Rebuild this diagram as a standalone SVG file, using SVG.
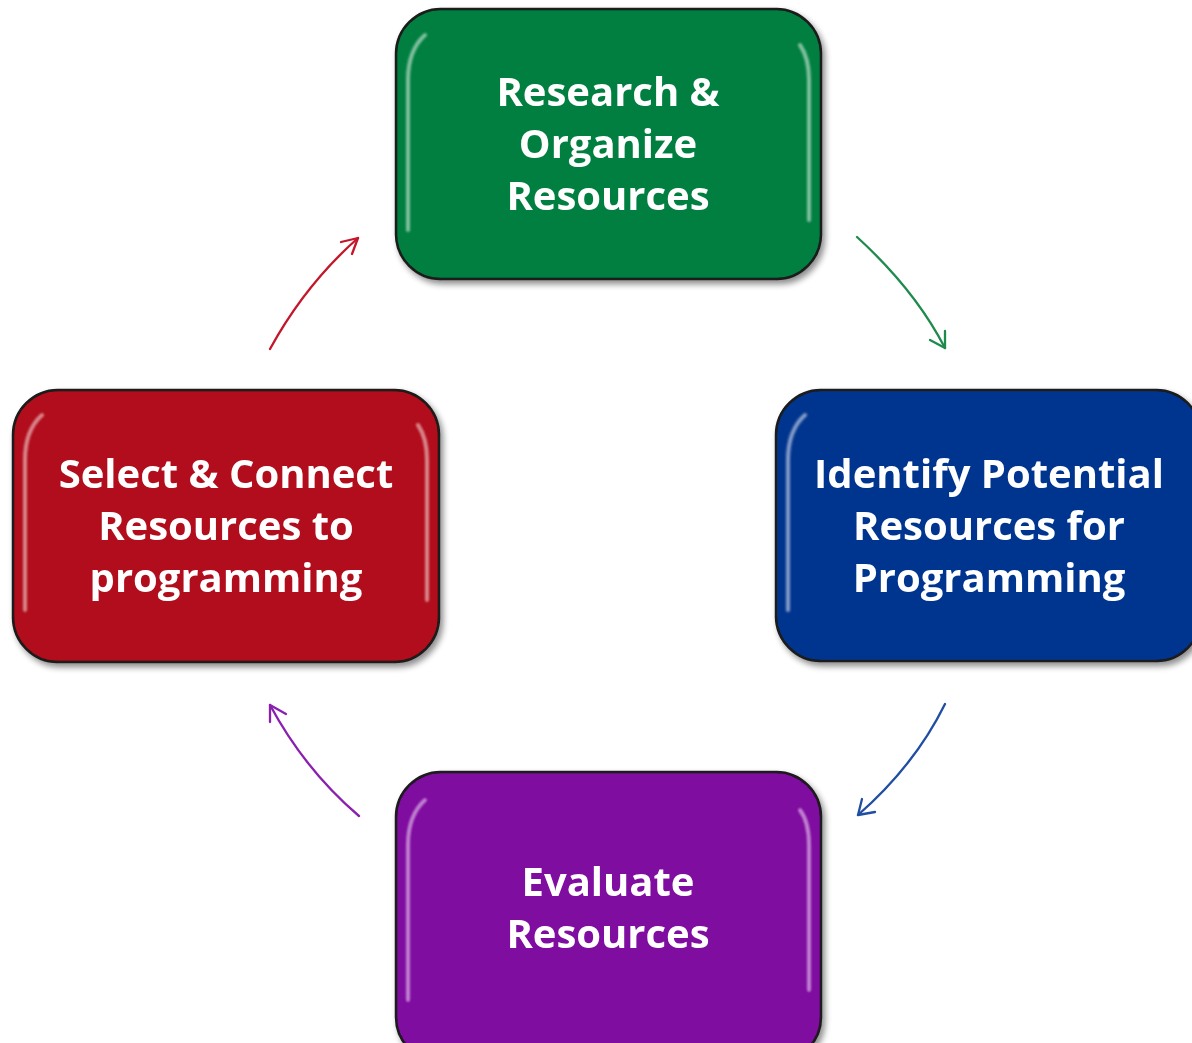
<svg xmlns="http://www.w3.org/2000/svg" width="1192" height="1043" viewBox="0 0 1192 1043">
<style>
.box{stroke:#1a1a1a;stroke-width:2.5}
.hl{fill:none;stroke:#ffffff;stroke-opacity:0.5;stroke-width:4;stroke-linecap:round;filter:url(#soft)}
.lbl{font-family:"Open Sans","Noto Sans",sans-serif;font-weight:700;font-size:40px;fill:#ffffff;text-anchor:middle}
.arr{fill:none;stroke-width:2.3;stroke-linecap:round;stroke-linejoin:round}
</style>
<defs>
<filter id="sh" x="-10%" y="-10%" width="125%" height="130%">
<feGaussianBlur in="SourceAlpha" stdDeviation="3"/>
<feOffset dx="3" dy="4"/>
<feComponentTransfer><feFuncA type="linear" slope="0.45"/></feComponentTransfer>
<feMerge><feMergeNode/><feMergeNode in="SourceGraphic"/></feMerge>
</filter>
<filter id="soft" x="-50%" y="-10%" width="200%" height="120%">
<feGaussianBlur stdDeviation="1"/>
</filter>
</defs>
<rect width="1192" height="1043" fill="#ffffff"/>
<g id="node-research" filter="url(#sh)">
<rect class="box" x="396" y="9" width="425" height="270" rx="45" fill="#017f3f"/>
<path class="hl" d="M408 230 V80 Q408 50 425 35"/>
<path class="hl" d="M809 220 V80 Q809 58 800 45"/>
<text class="lbl" x="608" y="106">Research &amp;</text>
<text class="lbl" x="608" y="158">Organize</text>
<text class="lbl" x="608" y="210">Resources</text>
</g>
<g id="node-identify" filter="url(#sh)">
<rect class="box" x="776" y="390" width="425" height="271" rx="45" fill="#03368f"/>
<path class="hl" d="M788 610 V460 Q788 430 805 415"/>
<text class="lbl" x="989" y="488">Identify Potential</text>
<text class="lbl" x="989" y="540">Resources for</text>
<text class="lbl" x="989" y="592">Programming</text>
</g>
<g id="node-evaluate" filter="url(#sh)">
<rect class="box" x="396" y="772" width="425" height="290" rx="45" fill="#7f07a0"/>
<path class="hl" d="M408 1000 V845 Q408 815 425 800"/>
<path class="hl" d="M809 990 V845 Q809 822 800 810"/>
<text class="lbl" x="608" y="896">Evaluate</text>
<text class="lbl" x="608" y="948">Resources</text>
</g>
<g id="node-select" filter="url(#sh)">
<rect class="box" x="13" y="390" width="426" height="272" rx="45" fill="#b10c1a"/>
<path class="hl" d="M25 610 V460 Q25 430 42 415"/>
<path class="hl" d="M427 600 V460 Q427 438 418 425"/>
<text class="lbl" x="226" y="488">Select &amp; Connect</text>
<text class="lbl" x="226" y="540">Resources to</text>
<text class="lbl" x="226" y="592">programming</text>
</g>
<g id="connectors">
<g stroke="#1e8a4c" class="arr">
<path d="M857 237 Q915 290 945 348"/>
<path d="M930 340 L945 348 L945 331"/>
</g>
<g stroke="#1f4ea3" class="arr">
<path d="M945 704 Q915 765 858 815"/>
<path d="M862 799 L858 815 L875 812"/>
</g>
<g stroke="#8a1fb0" class="arr">
<path d="M359 816 Q305 770 270 705"/>
<path d="M270 722 L270 705 L286 714"/>
</g>
<g stroke="#c4162a" class="arr">
<path d="M270 349 Q305 285 358 238"/>
<path d="M341 242 L358 238 L352 254"/>
</g>
</g>
</svg>
